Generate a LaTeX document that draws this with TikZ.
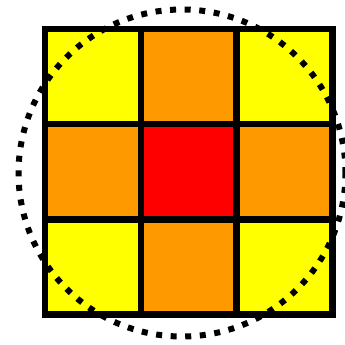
\documentclass[tikz,border=0pt]{standalone}
\usetikzlibrary{positioning}
\definecolor{cellyellow}{RGB}{255,255,0}
\definecolor{cellorange}{RGB}{255,153,0}
\definecolor{cellred}{RGB}{255,0,0}
\tikzset{
  cell/.style={draw=black, line width=6.5pt, minimum width=96pt, minimum height=95pt, inner sep=0pt, outer sep=0pt},
  ring/.style={draw=black, line width=6pt, dash pattern=on 6pt off 8.6pt}
}
\begin{document}
\begin{tikzpicture}[x=1pt,y=-1pt]
\useasboundingbox (0,0) rectangle (345,345);
\node[cell, fill=cellyellow] (c11) at (93,76.5) {};
\node[cell, fill=cellorange] (c12) at (189,76.5) {};
\node[cell, fill=cellyellow] (c13) at (284.5,76.5) {};
\node[cell, fill=cellorange] (c21) at (93,171.5) {};
\node[cell, fill=cellred] (c22) at (189,171.5) {};
\node[cell, fill=cellorange] (c23) at (284.5,171.5) {};
\node[cell, fill=cellyellow] (c31) at (93,267) {};
\node[cell, fill=cellorange] (c32) at (189,267) {};
\node[cell, fill=cellyellow] (c33) at (284.5,267) {};
\coordinate (o) at (182,173);
\draw[ring] (o) circle[radius=163.5pt];
\end{tikzpicture}
\end{document}
